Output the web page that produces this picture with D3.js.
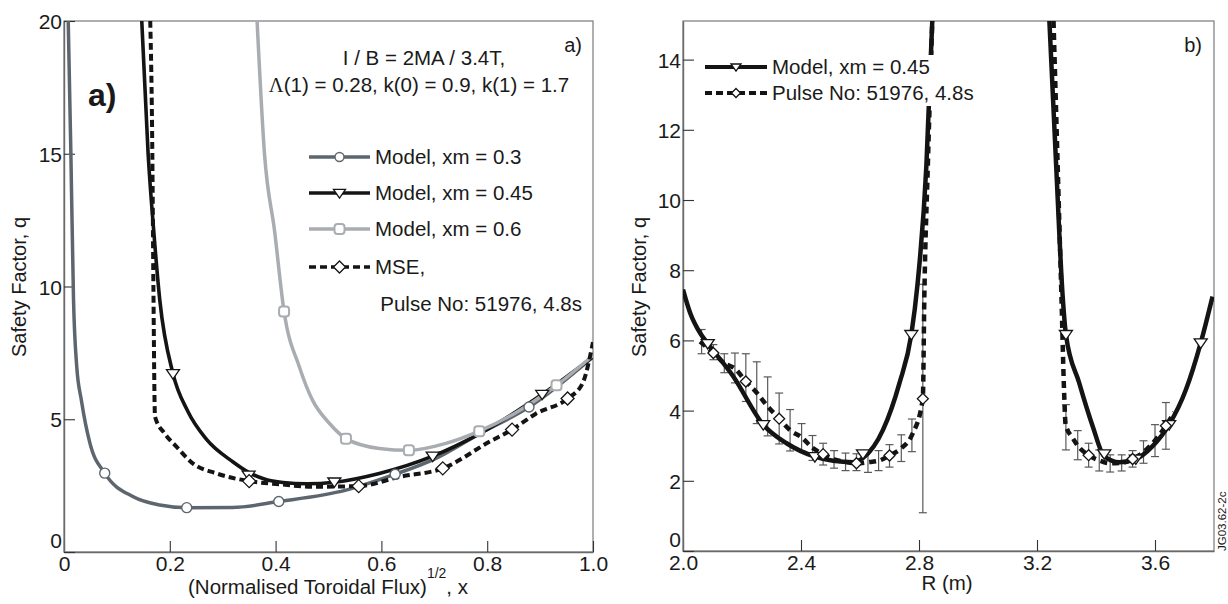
<!DOCTYPE html>
<html>
<head>
<meta charset="utf-8">
<script src="https://cdn.jsdelivr.net/npm/d3@7"></script>
<style>
  body { margin: 0; background: #fff; }
  svg { display: block; }
  text { font-family: "Liberation Sans", Arial, Helvetica, sans-serif; fill: #1a1a1a; }
</style>
</head>
<body>
<svg id="svg"></svg>
<script>

// ---------- panel a) : q vs (normalised toroidal flux)^1/2 ----------
const fluxTicks = [0, 0.2, 0.4, 0.6, 0.8, 1.0];
const fluxTickLabels = ["0", "0.2", "0.4", "0.6", "0.8", "1.0"];
const qTicksA = [0, 5, 10, 15, 20];
const qTickLabelsA = ["0", "5", "10", "15", "20"];

// Model, xm = 0.3
const x03 = [0.008, 0.013, 0.018, 0.024, 0.033, 0.049, 0.077, 0.131, 0.181, 0.232, 0.319, 0.406, 0.533, 0.626, 0.7, 0.785, 0.879, 1.0];
const q03 = [20, 15, 9.5, 7.0, 5.7, 4.1, 2.97, 2.08, 1.77, 1.67, 1.68, 1.9, 2.33, 2.93, 3.5, 4.45, 5.46, 7.35];
const mark03X = [0.077, 0.232, 0.406, 0.626, 0.879];
const mark03Q = [2.97, 1.67, 1.9, 2.93, 5.46];

// Model, xm = 0.45
const x045 = [0.147, 0.159, 0.17, 0.181, 0.206, 0.234, 0.269, 0.319, 0.349, 0.38, 0.414, 0.46, 0.511, 0.596, 0.697, 0.785, 0.904, 1.0];
const q045 = [20, 15, 12, 9.5, 6.72, 5.3, 4.25, 3.4, 3.0, 2.74, 2.62, 2.57, 2.63, 2.96, 3.61, 4.45, 5.94, 7.35];
const mark045X = [0.206, 0.349, 0.511, 0.697, 0.904];
const mark045Q = [6.72, 2.9, 2.64, 3.61, 5.94];

// Model, xm = 0.6
const x06 = [0.365, 0.379, 0.398, 0.416, 0.445, 0.47, 0.502, 0.533, 0.596, 0.652, 0.722, 0.785, 0.85, 0.931, 1.0];
const q06 = [20, 15, 12.1, 9.06, 6.97, 5.71, 4.84, 4.27, 3.9, 3.83, 4.09, 4.55, 5.2, 6.28, 7.4];
const mark06X = [0.416, 0.533, 0.652, 0.785, 0.931];
const mark06Q = [9.06, 4.27, 3.83, 4.55, 6.28];

// MSE, pulse 51976 at 4.8s
const xMse = [0.163, 0.167, 0.169, 0.172, 0.19, 0.213, 0.244, 0.288, 0.35, 0.408, 0.471, 0.557, 0.634, 0.716, 0.804, 0.847, 0.892, 0.952, 0.98, 1.0];
const qMse = [20, 15, 10, 5.1, 4.47, 3.96, 3.33, 2.96, 2.67, 2.55, 2.46, 2.48, 2.83, 3.15, 4.15, 4.61, 5.21, 5.78, 6.34, 7.9];
const markMseX = [0.35, 0.557, 0.716, 0.847, 0.952];
const markMseQ = [2.67, 2.48, 3.15, 4.61, 5.78];

// ---------- panel b) : q vs major radius R ----------
const rTicks = [2.0, 2.4, 2.8, 3.2, 3.6];
const rTickLabels = ["2.0", "2.4", "2.8", "3.2", "3.6"];
const qTicksB = [0, 2, 4, 6, 8, 10, 12, 14];
const qTickLabelsB = ["0", "2", "4", "6", "8", "10", "12", "14"];

// model xm = 0.45, inboard and outboard branches
const rModelIn = [2.0, 2.024, 2.058, 2.084, 2.17, 2.272, 2.351, 2.447, 2.509, 2.576, 2.61, 2.678, 2.734, 2.774, 2.795, 2.825, 2.845];
const qModelIn = [7.45, 6.79, 6.21, 5.91, 4.98, 3.6, 3.07, 2.69, 2.57, 2.53, 2.65, 3.45, 4.79, 6.17, 7.6, 10.97, 15.1];
const rModelOut = [3.242, 3.265, 3.287, 3.298, 3.343, 3.389, 3.428, 3.479, 3.535, 3.591, 3.648, 3.705, 3.755, 3.795];
const qModelOut = [15.1, 10.97, 7.26, 6.17, 4.79, 3.55, 2.7, 2.53, 2.62, 2.98, 3.6, 4.6, 5.93, 7.25];
const triR = [2.084, 2.272, 2.447, 2.61, 2.774, 3.298, 3.428, 3.535, 3.648, 3.755];
const triQ = [5.91, 3.6, 2.69, 2.77, 6.17, 6.17, 2.77, 2.62, 3.6, 5.93];

// MSE points with error bars
const rMseIn = [2.063, 2.103, 2.14, 2.176, 2.213, 2.25, 2.287, 2.326, 2.363, 2.402, 2.439, 2.475, 2.512, 2.551, 2.588, 2.627, 2.663, 2.7, 2.74, 2.776, 2.813];
const qMseIn = [5.97, 5.64, 5.35, 5.2, 4.83, 4.51, 4.12, 3.77, 3.44, 3.24, 2.94, 2.76, 2.61, 2.54, 2.5, 2.53, 2.57, 2.72, 2.93, 3.3, 4.34];
const loMseIn = [5.62, 5.45, 5.08, 4.79, 4.26, 3.63, 3.28, 3.05, 2.85, 2.85, 2.58, 2.45, 2.36, 2.29, 2.29, 2.24, 2.29, 2.39, 2.55, 2.83, 1.09];
const hiMseIn = [6.31, 5.88, 5.62, 5.64, 5.62, 5.39, 4.96, 4.5, 4.03, 3.63, 3.29, 3.07, 2.86, 2.79, 2.77, 2.83, 2.86, 3.03, 3.31, 3.76, 7.6];
const rMseOut = [3.298, 3.338, 3.375, 3.411, 3.448, 3.487, 3.524, 3.561, 3.6, 3.637];
const qMseOut = [3.5, 3.02, 2.73, 2.58, 2.5, 2.51, 2.62, 2.82, 3.15, 3.57];
const loMseOut = [2.88, 2.6, 2.39, 2.28, 2.25, 2.28, 2.39, 2.5, 2.69, 2.9];
const hiMseOut = [4.17, 3.43, 3.07, 2.88, 2.74, 2.74, 2.86, 3.14, 3.6, 4.23];

// dashed MSE profile (runs up the plot edge beyond the last points)
const rDashIn = [2.058, 2.103, 2.14, 2.176, 2.213, 2.25, 2.287, 2.326, 2.363, 2.402, 2.439, 2.475, 2.512, 2.551, 2.588, 2.627, 2.663, 2.7, 2.74, 2.776, 2.813, 2.818, 2.83, 2.845];
const qDashIn = [5.97, 5.64, 5.35, 5.2, 4.83, 4.51, 4.12, 3.77, 3.44, 3.24, 2.94, 2.76, 2.61, 2.54, 2.5, 2.53, 2.57, 2.72, 2.93, 3.3, 4.34, 7.2, 11, 15.1];
const rDashOut = [3.256, 3.27, 3.283, 3.292, 3.297, 3.321, 3.338, 3.375, 3.411, 3.448, 3.487, 3.524, 3.561, 3.6, 3.637, 3.665];
const qDashOut = [15.1, 11, 7.2, 4.5, 3.6, 3.22, 3.0, 2.73, 2.58, 2.5, 2.51, 2.62, 2.82, 3.15, 3.57, 3.95];
const diaR = [2.103, 2.213, 2.326, 2.475, 2.588, 2.7, 2.813, 3.375, 3.524, 3.637];
const diaQ = [5.64, 4.83, 3.77, 2.76, 2.5, 2.72, 4.34, 2.73, 2.62, 3.57];


const width = 1228;
const height = 604;

const darkGrey = "#5d666e";
const lightGrey = "#a9adb2";
const black = "#141414";

let svg = d3.select("#svg").attr("width", width).attr("height", height);


function zip(xs, ys) {
    return xs.map((v, i) => [v, ys[i]]);
}

// down pointing triangle, a bit wider than tall like the original
function triPath(w) {
    let h = w * 0.72;
    return `M${-w / 2},${-h * 0.42}L${w / 2},${-h * 0.42}L0,${h * 0.58}Z`;
}

function diamondPath(s) {
    return `M0,${-s}L${s},0L0,${s}L${-s},0Z`;
}

function drawPanel(id, xDomain, xRange, yDomain, yRange, xTicks, xLabels, yTicks, yLabels) {
    let x = d3.scaleLinear().domain(xDomain).range(xRange);
    let y = d3.scaleLinear().domain(yDomain).range(yRange);

    let g = svg.append("g").attr("id", id);

    svg.append("clipPath").attr("id", id + "-clip")
        .append("rect")
        .attr("x", xRange[0]).attr("y", yRange[1])
        .attr("width", xRange[1] - xRange[0])
        .attr("height", yRange[0] - yRange[1]);

    // box around the plot
    g.append("rect")
        .attr("x", xRange[0]).attr("y", yRange[1])
        .attr("width", xRange[1] - xRange[0])
        .attr("height", yRange[0] - yRange[1])
        .attr("fill", "none")
        .attr("stroke", "#7a7a7a")
        .attr("stroke-width", 1.2);

    // ticks point inwards
    let xAxis = g.append("g")
        .attr("transform", `translate(0,${yRange[0]})`)
        .call(d3.axisBottom(x).tickValues(xTicks)
            .tickFormat((d, i) => xLabels[i])
            .tickSizeInner(-11).tickSizeOuter(0).tickPadding(4));

    let yAxis = g.append("g")
        .attr("transform", `translate(${xRange[0]},0)`)
        .call(d3.axisLeft(y).tickValues(yTicks)
            .tickFormat((d, i) => yLabels[i])
            .tickSizeInner(-11).tickSizeOuter(0).tickPadding(2));

    for (let ax of [xAxis, yAxis]) {
        ax.attr("font-size", null).attr("font-family", null);
        ax.select(".domain").attr("stroke", "#6a6a6a").attr("stroke-width", 1.4);
        ax.selectAll(".tick line").attr("stroke", "#333").attr("stroke-width", 1.1);
        ax.selectAll(".tick text").style("font-size", "21px").attr("fill", "#1a1a1a");
    }
    xAxis.selectAll(".tick text").attr("dy", "0.72em");
    yAxis.selectAll(".tick text").attr("dy", "0.36em");
    // the zero label sits a little higher so it clears the x labels
    yAxis.selectAll(".tick text").filter(d => d == 0).attr("dy", "-0.2em");

    let plot = g.append("g").attr("clip-path", `url(#${id}-clip)`);

    return { g: g, plot: plot, x: x, y: y };
}

function drawCurve(panel, xs, ys, colour, strokeWidth, dash) {
    let line = d3.line()
        .x(d => panel.x(d[0]))
        .y(d => panel.y(d[1]))
        .curve(d3.curveMonotoneX);

    panel.plot.append("path")
        .datum(zip(xs, ys))
        .attr("d", line)
        .attr("fill", "none")
        .attr("stroke", colour)
        .attr("stroke-width", strokeWidth)
        .attr("stroke-dasharray", dash || null);
}

function drawMarkers(panel, xs, ys, kind, size, colour) {
    let pts = panel.g.append("g").selectAll("g")
        .data(zip(xs, ys))
        .join("g")
        .attr("transform", d => `translate(${panel.x(d[0])},${panel.y(d[1])})`);
    addMarker(pts, kind, size, colour);
}

function addMarker(sel, kind, size, colour) {
    if (kind == "circle") {
        sel.append("circle").attr("r", size / 2)
            .attr("fill", "#fff").attr("stroke", colour).attr("stroke-width", 1.4);
    } else if (kind == "square") {
        sel.append("rect")
            .attr("x", -size / 2).attr("y", -size / 2)
            .attr("width", size).attr("height", size)
            .attr("rx", size * 0.3)
            .attr("fill", "#fff").attr("stroke", colour).attr("stroke-width", 2);
    } else if (kind == "tri") {
        sel.append("path").attr("d", triPath(size))
            .attr("fill", "#fff").attr("stroke", colour).attr("stroke-width", 1.3);
    } else {
        sel.append("path").attr("d", diamondPath(size / 2))
            .attr("fill", "#fff").attr("stroke", colour).attr("stroke-width", 1.3);
    }
}

function drawErrorBars(panel, xs, lo, hi) {
    let bars = panel.plot.append("g")
        .attr("stroke", "#5a5a5a")
        .attr("stroke-width", 1.2);
    xs.forEach((v, i) => {
        let px = panel.x(v);
        let y0 = panel.y(lo[i]);
        let y1 = panel.y(hi[i]);
        bars.append("line").attr("x1", px).attr("x2", px).attr("y1", y0).attr("y2", y1);
        bars.append("line").attr("x1", px - 4).attr("x2", px + 4).attr("y1", y0).attr("y2", y0);
        bars.append("line").attr("x1", px - 4).attr("x2", px + 4).attr("y1", y1).attr("y2", y1);
    });
}

function legendRow(x, y, label, colour, strokeWidth, dash, kind, size, lineLen) {
    let row = svg.append("g").attr("transform", `translate(${x},${y})`);
    row.append("line")
        .attr("x1", 0).attr("x2", lineLen)
        .attr("stroke", colour).attr("stroke-width", strokeWidth)
        .attr("stroke-dasharray", dash || null);
    let m = row.append("g").attr("transform", `translate(${lineLen / 2},0)`);
    addMarker(m, kind, size, kind == "circle" || kind == "square" ? colour : black);
    row.append("text")
        .attr("x", lineLen + 5).attr("y", 7)
        .style("font-size", "20.5px")
        .text(label);
}

function yTitle(x, y) {
    svg.append("text")
        .attr("transform", `translate(${x},${y}) rotate(-90)`)
        .attr("text-anchor", "middle")
        .style("font-size", "20px")
        .text("Safety Factor, q");
}


function drawPanelA() {
    let pa = drawPanel("panel-a", [0, 1], [64, 593], [0, 20], [552, 21],
        fluxTicks, fluxTickLabels, qTicksA, qTickLabelsA);

    drawCurve(pa, x03, q03, darkGrey, 3.5);
    drawCurve(pa, x045, q045, black, 3.6);
    drawCurve(pa, x06, q06, lightGrey, 3.5);
    drawCurve(pa, xMse, qMse, black, 4, "7,4");

    drawMarkers(pa, mark03X, mark03Q, "circle", 10, darkGrey);
    drawMarkers(pa, mark06X, mark06Q, "square", 10, lightGrey);
    drawMarkers(pa, mark045X, mark045Q, "tri", 13, black);
    drawMarkers(pa, markMseX, markMseQ, "dia", 13, black);

    yTitle(26, 287);

    let xt = svg.append("text")
        .attr("x", 328).attr("y", 594)
        .attr("text-anchor", "middle")
        .style("font-size", "20.5px");
    xt.append("tspan").text("(Normalised Toroidal Flux)");
    xt.append("tspan").attr("dy", -16).style("font-size", "14px").text("1/2");
    xt.append("tspan").attr("dy", 16).text(", x");

    svg.append("text")
        .attr("x", 88).attr("y", 106)
        .style("font-size", "32px").style("font-weight", "bold")
        .text("a)");

    svg.append("text")
        .attr("x", 582).attr("y", 52)
        .attr("text-anchor", "end")
        .style("font-size", "20px")
        .text("a)");

    svg.append("text")
        .attr("x", 424).attr("y", 65)
        .attr("text-anchor", "middle")
        .style("font-size", "20.5px")
        .text("I / B = 2MA / 3.4T,");

    let sub = svg.append("text")
        .attr("x", 419).attr("y", 92)
        .attr("text-anchor", "middle")
        .style("font-size", "20.5px");
    sub.append("tspan").style("font-family", "'Liberation Serif', 'Times New Roman', serif").text("Λ");
    sub.append("tspan").text("(1) = 0.28, k(0) = 0.9, k(1) = 1.7");

    legendRow(309, 157, "Model, xm = 0.3", darkGrey, 3.4, null, "circle", 9, 61);
    legendRow(309, 193, "Model, xm = 0.45", black, 3.4, null, "tri", 12, 61);
    legendRow(309, 229, "Model, xm = 0.6", lightGrey, 3.4, null, "square", 10, 61);
    legendRow(309, 267, "MSE,", black, 3.4, "7,4", "dia", 12, 61);

    svg.append("text")
        .attr("x", 582).attr("y", 311)
        .attr("text-anchor", "end")
        .style("font-size", "20.5px")
        .text("Pulse No: 51976, 4.8s");
}


function drawPanelB() {
    let pb = drawPanel("panel-b", [2.0, 3.8], [683, 1214], [0, 15.1], [551, 21],
        rTicks, rTickLabels, qTicksB, qTickLabelsB);

    drawErrorBars(pb, rMseIn, loMseIn, hiMseIn);
    drawErrorBars(pb, rMseOut, loMseOut, hiMseOut);

    drawCurve(pb, rModelIn, qModelIn, black, 4.5);
    drawCurve(pb, rModelOut, qModelOut, black, 4.5);
    drawCurve(pb, rDashIn, qDashIn, black, 4.5, "7,5");
    drawCurve(pb, rDashOut, qDashOut, black, 4.5, "7,5");

    drawMarkers(pb, triR, triQ, "tri", 13, black);
    drawMarkers(pb, diaR, diaQ, "dia", 11, black);

    yTitle(646, 287);

    svg.append("text")
        .attr("x", 947).attr("y", 590)
        .attr("text-anchor", "middle")
        .style("font-size", "20.5px")
        .text("R (m)");

    svg.append("text")
        .attr("x", 1202).attr("y", 52)
        .attr("text-anchor", "end")
        .style("font-size", "20px")
        .text("b)");

    // legend sits on a white patch that hides the curves behind it
    svg.append("rect")
        .attr("x", 700).attr("y", 55)
        .attr("width", 245).attr("height", 51)
        .attr("fill", "#fff");

    legendRow(705, 67, "Model, xm = 0.45", black, 4, null, "tri", 10, 62);
    legendRow(705, 93, "Pulse No: 51976, 4.8s", black, 4, "7,4", "dia", 9, 62);

    svg.append("text")
        .attr("transform", "translate(1226,551) rotate(-90)")
        .style("font-size", "11.5px")
        .attr("fill", "#333")
        .text("JG03.62-2c");
}


function initialise() {
    drawPanelA();
    drawPanelB();
}

initialise();
</script>
</body>
</html>
